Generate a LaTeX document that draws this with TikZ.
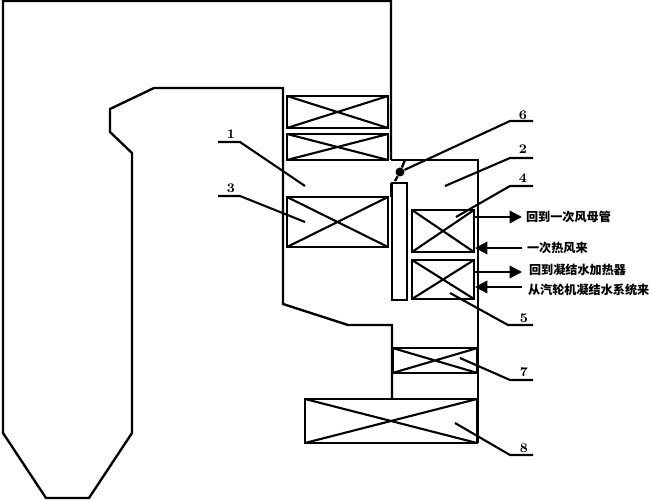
\documentclass[tikz,border=0pt]{standalone}
\usepackage{fontspec}
\usepackage{tikz}
\usetikzlibrary{arrows.meta}
\newfontfamily\cjk{Noto Sans CJK SC}
\tikzset{
	wall/.style={line width=1.35pt,line join=miter},
	heater/.style={draw,line width=1.35pt,inner sep=0pt,
		path picture={\draw[line width=1.2pt] (path picture bounding box.north west) -- (path picture bounding box.south east)
			(path picture bounding box.south west) -- (path picture bounding box.north east);}},
	leader/.style={line width=1.2pt},
	numlabel/.style={inner sep=0pt,font=\bfseries\fontsize{7.5}{9}\selectfont},
	flowtext/.style={anchor=west,inner sep=1pt,font=\cjk\bfseries\fontsize{6.9}{8}\selectfont},
	flow/.style={line width=1.3pt,-{Triangle[length=2.5mm,width=2.5mm]}}
}
\begin{document}
\begin{tikzpicture}[x=0.02cm,y=-0.02cm]
	\useasboundingbox (0,0) rectangle (650,500);
	% furnace and flue walls
	\draw[wall] (391,160) -- (391,1) -- (3,1) -- (3,433) -- (46,498) -- (89,498) -- (132,433) -- (132,153)
		-- (110,132) -- (110,109) -- (154,88) -- (283,88) -- (283,304) -- (348,325) -- (392,325) -- (392,399);
	\draw[wall] (391,160) -- (478,160) -- (478,443);
	\draw[wall] (391,183) -- (391,197);
	% heating surfaces
	\foreach \name/\x/\y/\w/\h in {a/337.5/112/101/32, b/337.5/147/101/26, 3/337.5/222/101/50,
		4/443/231/62/42, 5/443/279.5/62/39, 7/435/360.5/85/25, 8/391/421/172/44}
		\node[heater,minimum width=\w*0.02cm,minimum height=\h*0.02cm] (box\name) at (\x,\y) {};
	% baffle and damper
	\node[draw,line width=1.35pt,inner sep=0pt,minimum width=15*0.02cm,minimum height=117*0.02cm] (baffle) at (399.5,241.5) {};
	\node[circle,fill,inner sep=0pt,minimum size=9*0.02cm] (damper) at (400,172) {};
	\coordinate (dampertop) at (405,160);
	\coordinate (damperbot) at (395,181);
	\draw[wall] (damperbot) -- (damper) -- (dampertop);
	% numbers and leaders
	\foreach \num/\tx/\ty in {1/231/134, 3/231/188, 6/523/115, 2/523/149, 4/523/178, 5/524/318, 7/524/372, 8/524/448}
		\node[numlabel] (num\num) at (\tx,\ty) {\num};
	\foreach \num/\ax/\ay/\bx/\by/\cx/\cy in {1/305/186/240/142/218/142, 3/305/222/240/196/218/196,
		2/445/186/510/158/533/158, 4/456/217/510/186/533/186, 5/450/293/508/325/533/325,
		7/460/358/510/380/533/380, 8/455/423/510/455/533/455}
	{
		\coordinate (a\num) at (\ax,\ay);
		\coordinate (b\num) at (\bx,\by);
		\coordinate (c\num) at (\cx,\cy);
		\draw[leader] (a\num) -- (b\num) -- (c\num);
	}
	\coordinate (b6) at (510,121);
	\coordinate (c6) at (533,121);
	\draw[leader] (damper) -- (b6) -- (c6);
	% pipes in and out
	\node[flowtext] (out4) at (524,217) {回到一次风母管};
	\node[flowtext] (in4) at (525,248) {一次热风来};
	\node[flowtext] (out5) at (527,270) {回到凝结水加热器};
	\node[flowtext] (in5) at (526,290) {从汽轮机凝结水系统来};
	\coordinate (s1) at (474,217);
	\coordinate (s2) at (475,248);
	\coordinate (s3) at (474,272);
	\coordinate (s4) at (475,287);
	\coordinate (e1) at (522,217);
	\coordinate (e2) at (522,248);
	\coordinate (e3) at (522,272);
	\coordinate (e4) at (522,287);
	\draw[flow] (s1) -- (e1);
	\draw[flow] (e2) -- (s2);
	\draw[flow] (s3) -- (e3);
	\draw[flow] (e4) -- (s4);
\end{tikzpicture}
\end{document}
